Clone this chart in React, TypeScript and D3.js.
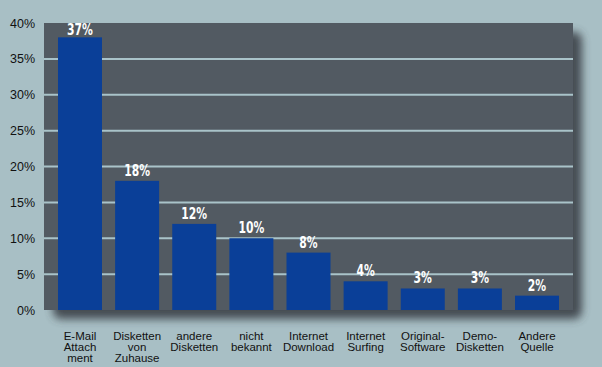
import React from 'react';
import * as d3 from 'd3';

const categories = [
  ['E-Mail', 'Attach', 'ment'],
  ['Disketten', 'von', 'Zuhause'],
  ['andere', 'Disketten'],
  ['nicht', 'bekannt'],
  ['Internet', 'Download'],
  ['Internet', 'Surfing'],
  ['Original-', 'Software'],
  ['Demo-', 'Disketten'],
  ['Andere', 'Quelle'],
];
// bar heights as drawn in the picture
const values = [38, 18, 12, 10, 8, 4, 3, 3, 2];
// printed value labels
const valueLabels = ['37%', '18%', '12%', '10%', '8%', '4%', '3%', '3%', '2%'];
const yTicks = [0, 5, 10, 15, 20, 25, 30, 35, 40];

const W = 602;
const H = 367;
const plot = { left: 44, right: 573, top: 23, bottom: 310 };

const App: React.FC = () => {
  const x = d3
    .scaleBand<number>()
    .domain(d3.range(values.length))
    .range([plot.left, plot.right])
    .paddingInner(0.23)
    .paddingOuter(0.245);
  const y = d3.scaleLinear().domain([0, 40]).range([plot.bottom, plot.top]);

  return (
    <div style={{ position: 'absolute', left: 0, top: 0 }}>
      <svg width={W} height={H} style={{ display: 'block' }}>
        <defs>
          <filter id="shadow" x="-10%" y="-10%" width="130%" height="130%">
            <feGaussianBlur stdDeviation="4" />
          </filter>
        </defs>
        <rect width={W} height={H} fill="#a8bfc5" />
        {/* drop shadow of the plot area */}
        <rect
          x={plot.left + 9}
          y={plot.top + 9}
          width={plot.right - plot.left}
          height={plot.bottom - plot.top}
          rx={8}
          fill="#3a4147"
          opacity={0.9}
          filter="url(#shadow)"
        />
        <rect
          x={plot.left}
          y={plot.top}
          width={plot.right - plot.left}
          height={plot.bottom - plot.top}
          fill="#525a62"
        />
        {yTicks
          .filter((t) => t > 0 && t < 40)
          .map((t) => (
            <line
              key={t}
              x1={plot.left}
              x2={plot.right}
              y1={y(t)}
              y2={y(t)}
              stroke="#a9c3c9"
              strokeWidth={2}
            />
          ))}
        {yTicks.map((t) => (
          <text
            key={t}
            x={35}
            y={y(t)}
            dy="0.36em"
            textAnchor="end"
            fontFamily="'Liberation Sans', Arial, sans-serif"
            fontSize={12.5}
            fill="#111"
          >
            {t}%
          </text>
        ))}
        {values.map((v, i) => {
          const cx = (x(i) as number) + x.bandwidth() / 2;
          return (
            <g key={i}>
              <rect
                x={x(i)}
                y={y(v)}
                width={x.bandwidth()}
                height={y(0) - y(v)}
                fill="#0a3f98"
              />
              <text
                transform={`translate(${cx},${Math.max(y(v) - 5, 35)}) scale(0.8,1)`}
                textAnchor="middle"
                fontFamily="'DejaVu Sans Condensed', 'DejaVu Sans', sans-serif"
                fontWeight="bold"
                fontSize={15}
                fill="#fff"
              >
                {valueLabels[i]}
              </text>
              <text
                textAnchor="middle"
                fontFamily="'Liberation Sans', Arial, sans-serif"
                fontSize={11.5}
                fill="#111"
              >
                {categories[i].map((line, j) => (
                  <tspan key={j} x={cx} y={340 + j * 11}>
                    {line}
                  </tspan>
                ))}
              </text>
            </g>
          );
        })}
      </svg>
    </div>
  );
};

export default App;
